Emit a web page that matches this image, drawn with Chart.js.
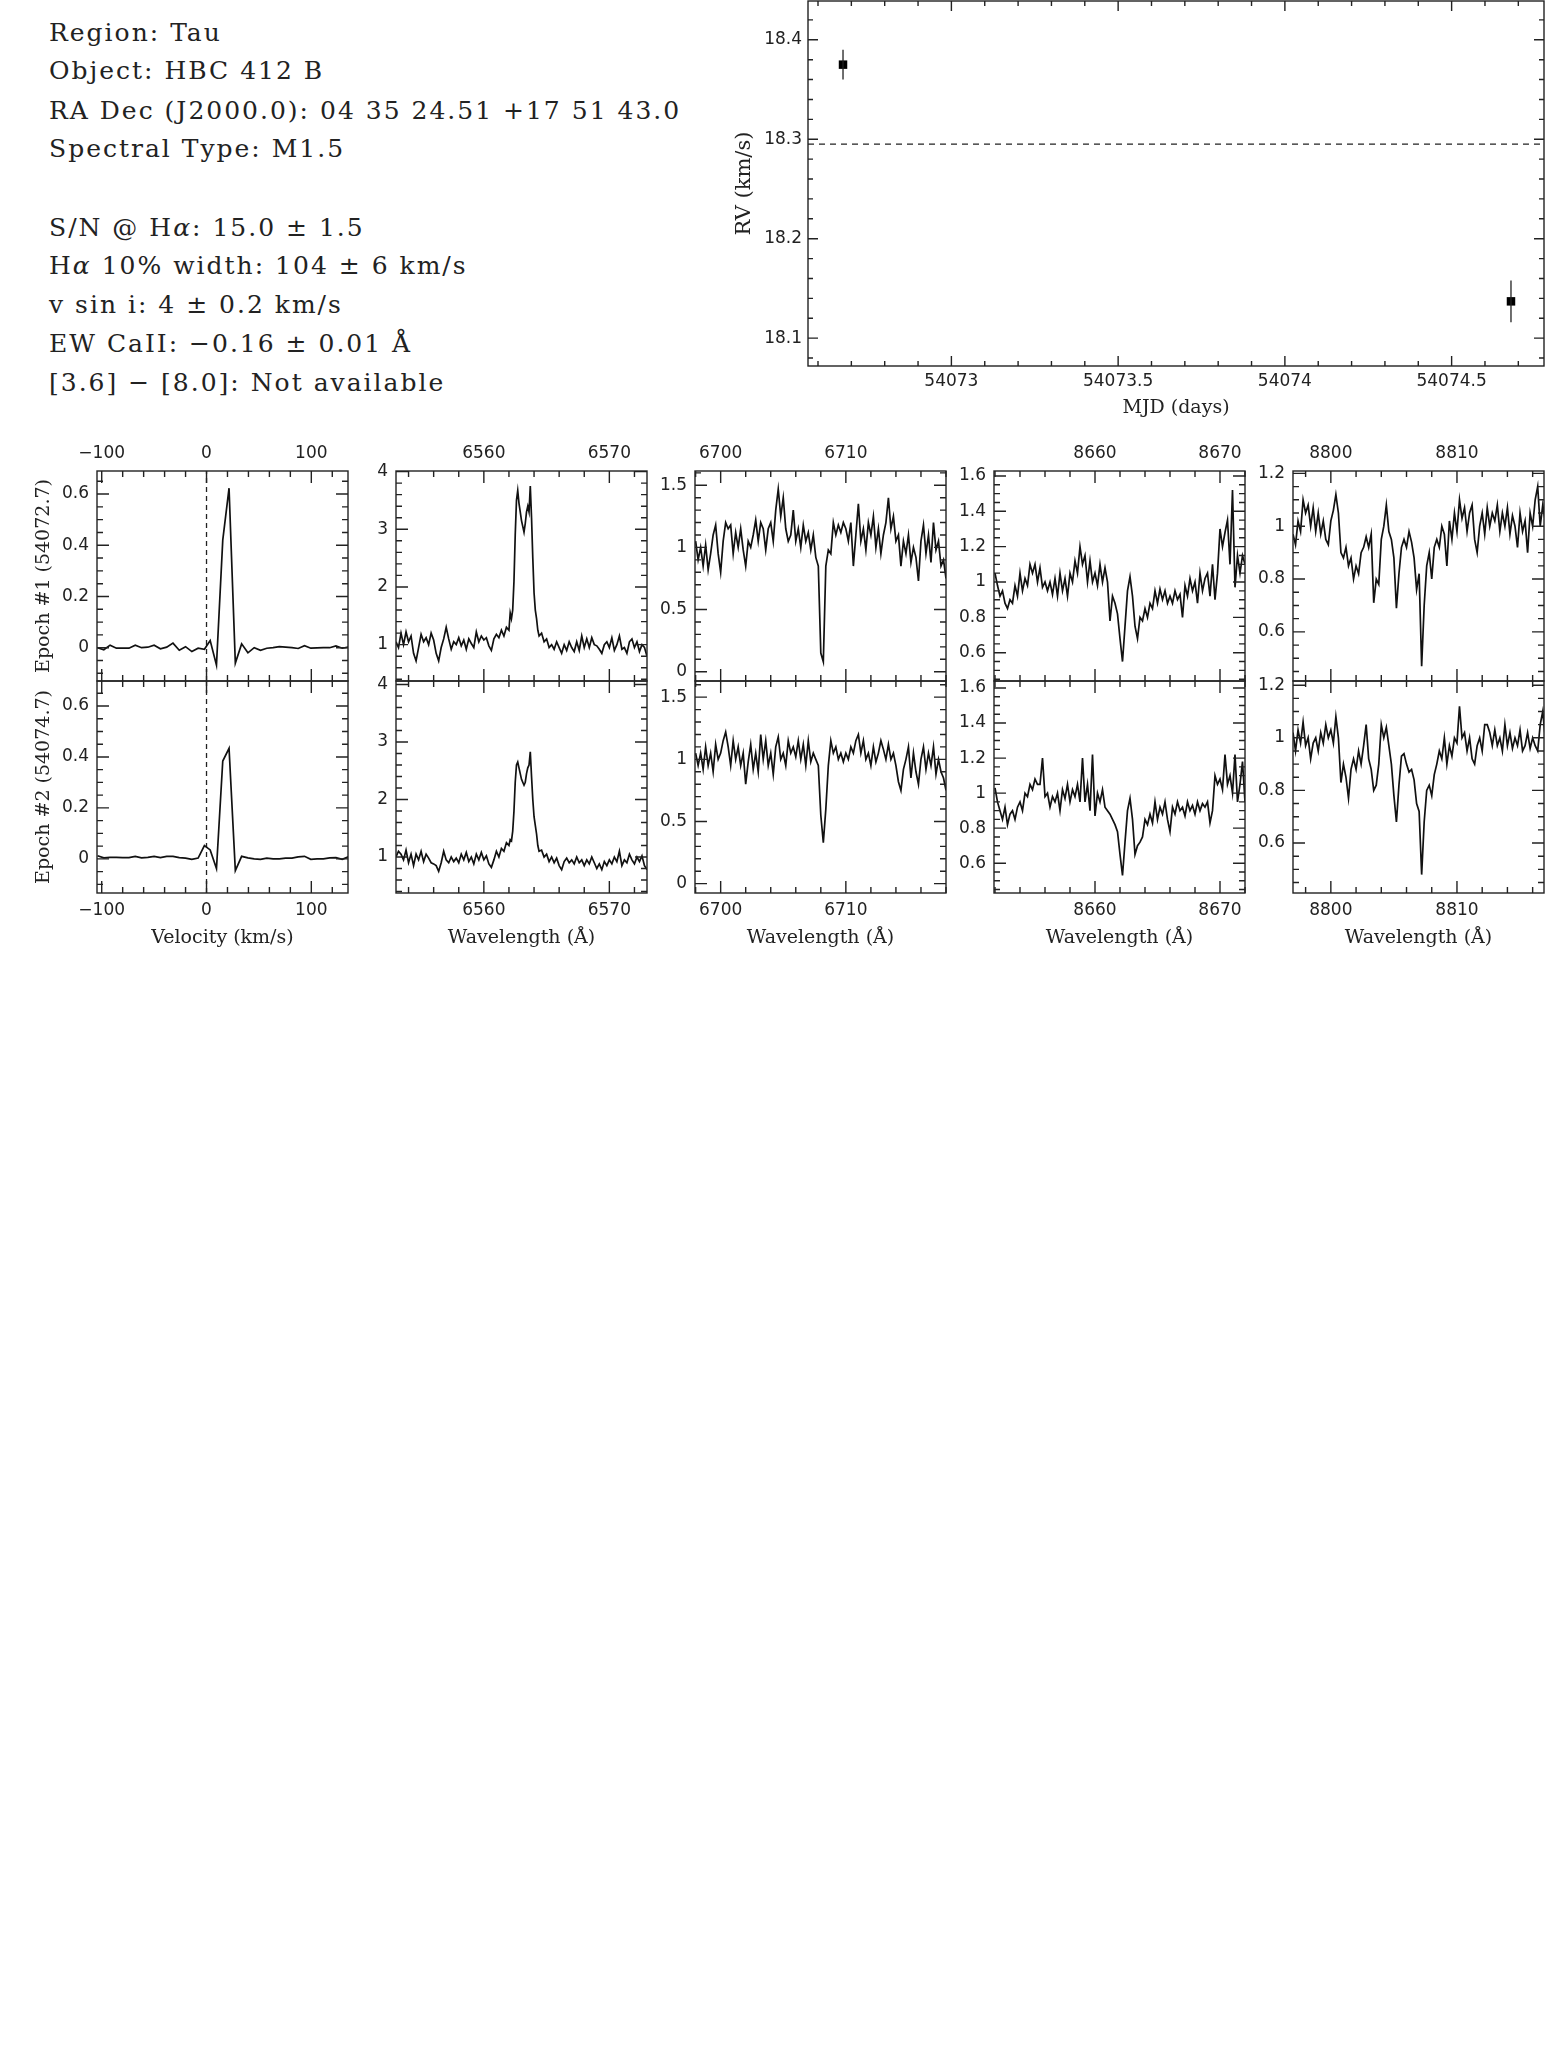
<!DOCTYPE html>
<html>
<head>
<meta charset="utf-8">
<title>HBC 412 B</title>
<script src="https://cdn.jsdelivr.net/npm/chart.js@4.4.1/dist/chart.umd.min.js"></script>
<style>
  html, body { margin: 0; padding: 0; background: #fff; }
  #fig { position: relative; width: 1547px; height: 2069px; overflow: hidden; background: #fff; }
  .info { position: absolute; left: 49px; font-family: "DejaVu Serif", serif; font-size: 25px; line-height: 25px; letter-spacing: 2px; color: #222; white-space: pre; }
  canvas { position: absolute; }
</style>
</head>
<body>
<div id="fig">
  <div class="info" style="top:20px">Region: Tau</div>
  <div class="info" style="top:58px">Object: HBC 412 B</div>
  <div class="info" style="top:98px">RA Dec (J2000.0): 04 35 24.51 +17 51 43.0</div>
  <div class="info" style="top:136px">Spectral Type: M1.5</div>
  <div class="info" style="top:215px">S/N @ H<i>α</i>: 15.0 ± 1.5</div>
  <div class="info" style="top:253px">H<i>α</i> 10% width: 104 ± 6 km/s</div>
  <div class="info" style="top:292px">v sin i: 4 ± 0.2 km/s</div>
  <div class="info" style="top:331px">EW CaII: −0.16 ± 0.01 Å</div>
  <div class="info" style="top:370px">[3.6] − [8.0]: Not available</div>
</div>
<script>
// RV curve
const rvMjd = [54072.675, 54074.678];
const rvKms = [18.375, 18.137];
const rvErr = [0.015, 0.021];
const rvMean = 18.295;
const rvRangeX = [54072.57, 54074.777];
const rvRangeY = [18.072, 18.439];
const rvTicksX = [54073, 54073.5, 54074, 54074.5];
const rvTicksY = [18.1, 18.2, 18.3, 18.4];

// H-alpha velocity profile (difference spectra)
const velGrid = [-104, -98, -92, -86, -80, -74, -68, -62, -56, -50, -44, -38, -32, -26, -20, -14, -8, -2,
  3.5, 9.5, 15.5, 21.5, 27.5, 33.5, 39.5, 45.5, 51.5, 57.5, 63.5, 69.5, 75.5, 81.5, 87.5, 93.5, 99.5, 105.5, 111.5, 117.5, 123.5, 129.5, 135.5];
const velEpoch1 = [0.0, -0.008, 0.01, -0.002, -0.002, -0.002, 0.01, 0.0, 0.002, 0.01, -0.004, 0.002, 0.018, -0.01, 0.004, -0.015, -0.002, -0.006,
  0.028, -0.068, 0.42, 0.623, -0.06, 0.015, -0.02, 0.0, -0.01, -0.002, 0.0, 0.004, 0.002, 0.0, -0.003, 0.008, -0.002, -0.001, 0.0, 0.0, 0.007, -0.002, 0.003];
const velEpoch2 = [0.012, 0.004, 0.006, 0.006, 0.005, 0.005, 0.01, 0.004, 0.006, 0.01, 0.005, 0.01, 0.01, 0.005, 0.003, -0.002, 0.003, 0.052,
  0.035, -0.038, 0.384, 0.434, -0.046, 0.01, 0.004, 0.0, -0.002, 0.003, 0.0, 0.0, 0.003, 0.003, 0.008, 0.01, -0.002, 0.0, 0.0, 0.004, 0.005, -0.002, 0.008];
const velTicksX = [-100, 0, 100];
const velTicksY = [0, 0.2, 0.4, 0.6];

// H-alpha 6563
const haWave = [6553.0, 6553.2, 6553.4, 6553.6, 6553.8, 6554.0, 6554.2, 6554.4, 6554.6, 6554.8, 6555.0, 6555.2, 6555.4, 6555.6, 6555.8,
  6556.0, 6556.2, 6556.4, 6556.6, 6556.8, 6557.0, 6557.2, 6557.4, 6557.6, 6557.8, 6558.0, 6558.2, 6558.4, 6558.6, 6558.8,
  6559.0, 6559.2, 6559.4, 6559.6, 6559.8, 6560.0, 6560.2, 6560.4, 6560.6, 6560.8, 6561.0, 6561.2, 6561.4, 6561.6, 6561.8,
  6562.0, 6562.1, 6562.2, 6562.3, 6562.4, 6562.5, 6562.6, 6562.7, 6562.8, 6562.9, 6563.0, 6563.1, 6563.2, 6563.3, 6563.4,
  6563.5, 6563.6, 6563.7, 6563.8, 6563.9, 6564.0, 6564.1, 6564.2, 6564.3, 6564.4,
  6564.6, 6564.8, 6565.0, 6565.2, 6565.4, 6565.6, 6565.8, 6566.0, 6566.2, 6566.4, 6566.6, 6566.8, 6567.0, 6567.2, 6567.4,
  6567.6, 6567.8, 6568.0, 6568.2, 6568.4, 6568.6, 6568.8, 6569.0, 6569.2, 6569.4, 6569.6, 6569.8, 6570.0, 6570.2, 6570.4,
  6570.6, 6570.8, 6571.0, 6571.2, 6571.4, 6571.6, 6571.8, 6572.0, 6572.2, 6572.4, 6572.6, 6572.8, 6573.0];
const haFlux1 = [1.05, 0.95, 1.2, 1.0, 1.22, 1.05, 1.15, 0.85, 0.72, 0.95, 1.18, 1.05, 1.12, 1.0, 1.2,
  1.08, 0.85, 0.72, 0.95, 1.1, 1.3, 1.1, 0.92, 1.05, 1.0, 1.12, 0.98, 1.08, 0.92, 1.1,
  1.02, 0.95, 1.22, 1.05, 1.15, 1.08, 1.12, 0.98, 0.9, 1.1, 1.18, 1.12, 1.25, 1.15, 1.3,
  1.25, 1.55, 1.45, 1.6, 2.1, 2.9, 3.5, 3.67, 3.45, 3.3, 3.15, 3.05, 2.95, 3.1, 3.3,
  3.4, 3.3, 3.75, 3.2, 2.5, 1.9, 1.6, 1.45, 1.25, 1.15,
  1.2, 1.05, 1.1, 0.95, 1.0, 0.92, 1.05, 0.95, 0.85, 1.0, 0.9, 1.05, 0.95, 0.88, 1.05,
  0.9, 1.15, 0.95, 1.1, 0.95, 1.12, 1.0, 0.98, 0.92, 0.85, 1.0, 1.05, 0.95, 1.12, 0.9,
  1.0, 1.15, 0.92, 0.95, 0.85, 1.05, 1.1, 0.95, 1.05, 0.88, 1.0, 0.95, 0.8];
const haFlux2 = [1.0, 1.1, 1.05, 0.95, 1.12, 0.9, 1.05, 0.85, 1.05, 0.95, 1.1, 0.92, 1.05, 0.98, 0.9,
  0.88, 0.85, 0.75, 0.9, 1.1, 0.95, 0.9, 1.0, 0.92, 0.98, 0.9, 1.05, 0.95, 1.08, 0.92,
  1.0, 0.88, 1.05, 0.95, 1.08, 0.95, 1.02, 0.88, 0.82, 0.95, 1.1, 1.0, 1.15, 1.1, 1.25,
  1.2, 1.3, 1.28, 1.45, 1.8, 2.3, 2.6, 2.65, 2.55, 2.45, 2.35, 2.3, 2.25, 2.3, 2.45,
  2.55, 2.6, 2.83, 2.4, 2.0, 1.7, 1.55, 1.4, 1.2, 1.1,
  1.12, 1.0, 1.05, 0.92, 1.0, 0.9, 0.98, 0.85, 0.78, 0.92, 0.98, 0.9, 0.95, 0.88, 1.0,
  0.9, 0.95, 0.85, 0.95, 0.88, 1.0, 0.9, 0.8, 0.88, 0.78, 0.92, 0.85, 0.95, 0.88, 1.0,
  0.92, 1.1, 0.85, 0.95, 0.9, 1.05, 0.95, 0.88, 1.0, 0.92, 1.02, 0.85, 0.78];
const haTicksX = [6560, 6570];
const haTicksY = [1, 2, 3, 4];

// Li I 6708
const liWave = [6698.0, 6698.2, 6698.4, 6698.6, 6698.8, 6699.0, 6699.2, 6699.4, 6699.6, 6699.8,
  6700.0, 6700.2, 6700.4, 6700.6, 6700.8, 6701.0, 6701.2, 6701.4, 6701.6, 6701.8,
  6702.0, 6702.2, 6702.4, 6702.6, 6702.8, 6703.0, 6703.2, 6703.4, 6703.6, 6703.8,
  6704.0, 6704.2, 6704.4, 6704.6, 6704.8, 6705.0, 6705.2, 6705.4, 6705.6, 6705.8,
  6706.0, 6706.2, 6706.4, 6706.6, 6706.8, 6707.0, 6707.2, 6707.4, 6707.6, 6707.8,
  6708.0, 6708.2, 6708.4, 6708.6, 6708.8, 6709.0, 6709.2, 6709.4, 6709.6, 6709.8,
  6710.0, 6710.2, 6710.4, 6710.6, 6710.8, 6711.0, 6711.2, 6711.4, 6711.6, 6711.8,
  6712.0, 6712.2, 6712.4, 6712.6, 6712.8, 6713.0, 6713.2, 6713.4, 6713.6, 6713.8,
  6714.0, 6714.2, 6714.4, 6714.6, 6714.8, 6715.0, 6715.2, 6715.4, 6715.6, 6715.8,
  6716.0, 6716.2, 6716.4, 6716.6, 6716.8, 6717.0, 6717.2, 6717.4, 6717.6, 6717.8, 6718.0];
const liFlux1 = [1.05, 0.9, 1.0, 0.85, 1.02, 0.82, 0.95, 1.1, 1.18, 0.95,
  0.8, 1.05, 1.2, 1.15, 1.18, 0.95, 1.12, 1.0, 1.15, 0.98,
  0.85, 1.05, 1.0, 1.1, 1.22, 1.05, 1.2, 1.15, 0.98, 1.15,
  1.2, 1.05, 1.3, 1.47, 1.25, 1.4, 1.15, 1.05, 1.1, 1.3,
  1.05, 1.15, 1.0, 1.18, 1.05, 1.12, 0.98, 1.1, 0.92, 0.85,
  0.15, 0.08, 0.85, 0.98, 0.95, 1.2, 1.1, 1.18, 1.12, 1.2,
  1.15, 1.05, 1.2, 0.85, 1.1, 1.35, 1.05, 1.15, 0.98, 1.2,
  1.1, 1.25, 1.0, 1.15, 0.95, 1.1, 1.2, 1.4, 1.15, 1.25,
  1.05, 1.1, 0.85, 1.05, 0.95, 1.1, 0.88, 1.0, 0.92, 0.73,
  1.05, 1.18, 0.95, 1.1, 0.88, 1.2, 0.98, 1.05, 0.85, 0.9, 0.75];
const liFlux2 = [1.05, 0.95, 1.05, 0.92, 1.1, 0.95, 1.05, 0.9, 1.12, 1.0,
  1.05, 1.15, 1.22, 1.1, 0.95, 1.15, 1.0, 1.1, 0.95, 1.05,
  0.8, 0.98, 1.12, 0.92, 1.05, 0.9, 1.2, 1.0, 1.15, 0.95,
  1.05, 0.88, 1.1, 1.18, 1.0, 1.05, 0.95, 1.15, 1.05, 1.1,
  1.02, 1.15, 1.0, 1.12, 0.95, 1.15, 0.98, 1.05, 1.0, 0.95,
  0.55, 0.33, 0.6, 0.95, 1.15, 1.05, 1.1, 1.0, 1.05, 0.98,
  1.05, 1.0, 1.1, 1.05, 1.15, 1.2, 1.05, 1.15, 1.0, 1.05,
  0.95, 1.1, 0.98, 1.05, 1.15, 1.08, 1.0, 1.12, 1.0, 1.05,
  0.95, 0.82, 0.75, 0.92, 1.0, 1.1, 0.85, 1.05, 0.9, 0.8,
  1.0, 1.1, 0.92, 1.05, 0.95, 1.1, 0.88, 1.0, 0.9, 0.85, 0.75];
const liTicksX = [6700, 6710];
const liTicksY = [0, 0.5, 1, 1.5];

// Ca II 8662
const caWave = [8652.0, 8652.2, 8652.4, 8652.6, 8652.8, 8653.0, 8653.2, 8653.4, 8653.6, 8653.8,
  8654.0, 8654.2, 8654.4, 8654.6, 8654.8, 8655.0, 8655.2, 8655.4, 8655.6, 8655.8,
  8656.0, 8656.2, 8656.4, 8656.6, 8656.8, 8657.0, 8657.2, 8657.4, 8657.6, 8657.8,
  8658.0, 8658.2, 8658.4, 8658.6, 8658.8, 8659.0, 8659.2, 8659.4, 8659.6, 8659.8,
  8660.0, 8660.2, 8660.4, 8660.6, 8660.8, 8661.0, 8661.2, 8661.4, 8661.6, 8661.8,
  8662.0, 8662.2, 8662.4, 8662.6, 8662.8, 8663.0, 8663.2, 8663.4, 8663.6, 8663.8,
  8664.0, 8664.2, 8664.4, 8664.6, 8664.8, 8665.0, 8665.2, 8665.4, 8665.6, 8665.8,
  8666.0, 8666.2, 8666.4, 8666.6, 8666.8, 8667.0, 8667.2, 8667.4, 8667.6, 8667.8,
  8668.0, 8668.2, 8668.4, 8668.6, 8668.8, 8669.0, 8669.2, 8669.4, 8669.6, 8669.8,
  8670.0, 8670.2, 8670.4, 8670.6, 8670.8, 8671.0, 8671.2, 8671.4, 8671.6, 8671.8, 8672.0];
const caFlux1 = [1.05, 0.98, 0.92, 0.95, 0.88, 0.85, 0.9, 0.88, 0.98, 0.92,
  1.05, 0.95, 1.02, 0.98, 1.1, 1.05, 1.1, 1.0, 1.08, 0.97,
  1.0, 0.95, 1.0, 0.93, 1.02, 0.92, 1.05, 0.95, 1.02, 0.92,
  1.05, 1.0, 1.12, 1.05, 1.2, 1.1, 1.15, 1.0, 1.12, 1.0,
  1.05, 0.98, 1.1, 1.0, 1.08, 1.0, 0.78, 0.92, 0.88, 0.82,
  0.68, 0.55, 0.75, 0.95, 1.03, 0.92, 0.75, 0.68, 0.8, 0.78,
  0.85, 0.8, 0.88, 0.85, 0.95, 0.88, 0.96, 0.9, 0.95, 0.88,
  0.92, 0.88, 0.95, 0.9, 0.93, 0.8, 0.98, 0.92, 1.02, 0.95,
  1.0, 0.88, 1.05, 0.95, 1.02, 1.05, 0.92, 1.1, 0.9, 1.05,
  1.3, 1.2, 1.28, 1.35, 1.1, 1.52, 0.97, 1.15, 1.05, 1.15, 1.1];
const caFlux2 = [1.03, 0.95, 0.9, 0.85, 0.92, 0.82, 0.88, 0.9, 0.85, 0.92,
  0.95, 0.9, 1.0, 0.98, 1.05, 1.02, 1.08, 1.05, 1.05, 1.2,
  0.98, 1.0, 0.92, 0.98, 0.95, 1.0, 0.9, 1.02, 0.97, 1.05,
  0.95, 1.02, 0.98, 1.05, 0.95, 1.2, 0.95, 1.05, 0.9, 1.22,
  0.87, 1.0, 0.95, 1.02, 0.92, 0.9, 0.88, 0.85, 0.82, 0.78,
  0.65, 0.53, 0.72, 0.9, 0.97, 0.85, 0.65, 0.7, 0.72, 0.75,
  0.85, 0.82, 0.88, 0.83, 0.95, 0.85, 0.92, 0.88, 0.95, 0.85,
  0.78, 0.92, 0.88, 0.95, 0.9, 0.92, 0.87, 0.95, 0.9, 0.93,
  0.88, 0.95, 0.9, 0.94, 0.92, 0.95, 0.83, 0.9, 1.1, 1.05,
  1.08, 1.02, 1.22, 1.05, 1.1, 1.0, 1.22, 0.95, 1.05, 1.18, 0.95];
const caTicksX = [8660, 8670];
const caTicksY = [0.6, 0.8, 1, 1.2, 1.4, 1.6];

// K I 8807 region
const kWave = [8797.0, 8797.2, 8797.4, 8797.6, 8797.8, 8798.0, 8798.2, 8798.4, 8798.6, 8798.8,
  8799.0, 8799.2, 8799.4, 8799.6, 8799.8, 8800.0, 8800.2, 8800.4, 8800.6, 8800.8,
  8801.0, 8801.2, 8801.4, 8801.6, 8801.8, 8802.0, 8802.2, 8802.4, 8802.6, 8802.8,
  8803.0, 8803.2, 8803.4, 8803.6, 8803.8, 8804.0, 8804.2, 8804.4, 8804.6, 8804.8,
  8805.0, 8805.2, 8805.4, 8805.6, 8805.8, 8806.0, 8806.2, 8806.4, 8806.6, 8806.8,
  8807.0, 8807.2, 8807.4, 8807.6, 8807.8, 8808.0, 8808.2, 8808.4, 8808.6, 8808.8,
  8809.0, 8809.2, 8809.4, 8809.6, 8809.8, 8810.0, 8810.2, 8810.4, 8810.6, 8810.8,
  8811.0, 8811.2, 8811.4, 8811.6, 8811.8, 8812.0, 8812.2, 8812.4, 8812.6, 8812.8,
  8813.0, 8813.2, 8813.4, 8813.6, 8813.8, 8814.0, 8814.2, 8814.4, 8814.6, 8814.8,
  8815.0, 8815.2, 8815.4, 8815.6, 8815.8, 8816.0, 8816.2, 8816.4, 8816.6, 8816.8, 8817.0];
const kFlux1 = [0.97, 0.93, 1.02, 0.98, 1.1, 1.05, 1.08, 1.0, 1.07, 0.98,
  1.05, 0.97, 1.02, 0.95, 0.93, 1.02, 1.06, 1.12, 1.05, 0.9,
  0.88, 0.92, 0.85, 0.88, 0.8, 0.85, 0.82, 0.9, 0.92, 0.96,
  0.92, 0.97, 0.71, 0.8, 0.78, 0.95, 1.0, 1.08, 0.98, 0.95,
  0.88, 0.69, 0.82, 0.92, 0.95, 0.92, 0.98, 0.94, 0.88, 0.76,
  0.82, 0.47, 0.7, 0.85, 0.9, 0.8, 0.92, 0.95, 0.92, 1.0,
  0.97, 0.85, 1.02, 0.95, 1.05, 0.98, 1.1, 1.03, 1.07, 0.98,
  1.05, 1.08, 0.95, 0.9, 1.0, 1.05, 0.97, 1.07, 1.0, 1.05,
  1.02, 1.08, 0.98, 1.05, 1.0, 1.07, 0.97, 1.04, 1.0, 0.92,
  1.05, 0.98, 1.02, 0.9, 1.05, 1.0, 1.1, 1.15, 1.0, 1.08, 1.02];
const kFlux2 = [1.02, 0.95, 1.03, 0.98, 1.06, 0.97, 1.0, 0.92, 0.98, 1.0,
  0.95, 1.02, 0.98, 1.05, 1.0, 1.03, 0.98, 1.08, 1.0, 0.83,
  0.9, 0.85, 0.77, 0.88, 0.92, 0.88, 0.95, 0.9, 0.97, 1.05,
  0.92, 0.88, 0.8, 0.82, 0.9, 1.05, 1.0, 1.04, 0.97, 0.9,
  0.78, 0.68, 0.82, 0.93, 0.94, 0.9, 0.87, 0.88, 0.84, 0.75,
  0.72, 0.48, 0.68, 0.8, 0.82, 0.78, 0.86, 0.9, 0.95, 0.92,
  1.0, 0.9, 0.97, 0.93, 1.0, 0.98, 1.12, 1.0, 1.02, 0.95,
  1.0, 0.92, 0.9, 0.97, 1.0, 0.95, 1.05, 1.05, 1.02, 0.97,
  1.03, 0.97, 1.0, 0.95, 1.05, 0.97, 1.02, 0.96, 1.0, 0.97,
  1.03, 0.95, 0.97, 1.02, 0.96, 1.0, 0.97, 0.95, 1.05, 1.1, 1.0];
const kTicksX = [8800, 8810];
const kTicksY = [0.6, 0.8, 1, 1.2];

const epochLabels = ['Epoch #1 (54072.7)', 'Epoch #2 (54074.7)'];

const panels = [
  { wave: velGrid, flux: [velEpoch1, velEpoch2], xRange: [-104.5, 135], xTicks: velTicksX, xMinor: 20,
    yRange: [[-0.13, 0.69], [-0.134, 0.698]], yTicks: velTicksY, yMinor: 0.05, xTitle: 'Velocity (km/s)', zero: true },
  { wave: haWave, flux: [haFlux1, haFlux2], xRange: [6553, 6573], xTicks: haTicksX, xMinor: 2,
    yRange: [[0.37, 4.01], [0.374, 4.06]], yTicks: haTicksY, yMinor: 0.2, xTitle: 'Wavelength (Å)' },
  { wave: liWave, flux: [liFlux1, liFlux2], xRange: [6697.95, 6718], xTicks: liTicksX, xMinor: 2,
    yRange: [[-0.075, 1.615], [-0.075, 1.63]], yTicks: liTicksY, yMinor: 0.1, xTitle: 'Wavelength (Å)' },
  { wave: caWave, flux: [caFlux1, caFlux2], xRange: [8651.92, 8672], xTicks: caTicksX, xMinor: 2,
    yRange: [[0.44, 1.628], [0.43, 1.64]], yTicks: caTicksY, yMinor: 0.05, xTitle: 'Wavelength (Å)' },
  { wave: kWave, flux: [kFlux1, kFlux2], xRange: [8797, 8816.9], xTicks: kTicksX, xMinor: 2,
    yRange: [[0.414, 1.209], [0.41, 1.216]], yTicks: kTicksY, yMinor: 0.05, xTitle: 'Wavelength (Å)' }
];

const ink = '#222';
const tickFont = { family: 'DejaVu Sans', size: 17 };
const titleFont = { family: 'DejaVu Serif', size: 19 };
const fmt = v => (v < 0 ? '\u2212' + Math.abs(v) : String(v));
const fig = document.getElementById('fig');

// frame around the plot area with inward major/minor ticks on all four sides
const frameTicks = {
  id: 'frameTicks',
  afterDatasetsDraw(chart, args, o) {
    const { ctx, chartArea: a } = chart;
    const sx = chart.scales.x, sy = chart.scales.y;
    const steps = (min, max, step) => {
      const out = [];
      for (let n = Math.ceil(min / step - 1e-6); n * step <= max + 1e-9; n++) out.push(n * step);
      return out;
    };
    ctx.save();
    ctx.strokeStyle = ink;
    ctx.lineWidth = 1.4;
    ctx.strokeRect(a.left, a.top, a.right - a.left, a.bottom - a.top);
    ctx.beginPath();
    const xt = steps(sx.min, sx.max, o.xMinor).map(v => [v, o.minor]).concat(o.xMajor.map(v => [v, o.major]));
    xt.forEach(([v, len]) => {
      const p = sx.getPixelForValue(v);
      if (p < a.left || p > a.right) return;
      ctx.moveTo(p, a.bottom); ctx.lineTo(p, a.bottom - len);
      ctx.moveTo(p, a.top); ctx.lineTo(p, a.top + len);
    });
    const yt = steps(sy.min, sy.max, o.yMinor).map(v => [v, o.minor]).concat(o.yMajor.map(v => [v, o.major]));
    yt.forEach(([v, len]) => {
      const p = sy.getPixelForValue(v);
      if (p < a.top || p > a.bottom) return;
      ctx.moveTo(a.left, p); ctx.lineTo(a.left + len, p);
      ctx.moveTo(a.right, p); ctx.lineTo(a.right - len, p);
    });
    ctx.stroke();
    ctx.restore();
  }
};

function addCanvas(left, top, w, h) {
  const c = document.createElement('canvas');
  c.width = w; c.height = h;
  c.style.left = left + 'px'; c.style.top = top + 'px';
  c.style.width = w + 'px'; c.style.height = h + 'px';
  fig.appendChild(c);
  return c;
}

// fixes the axis size so every plot box lands where it should
function fixedAxis(size, horizontal) {
  return s => {
    if (horizontal) s.height = size; else s.width = size;
    s.paddingTop = 0; s.paddingBottom = 0; s.paddingLeft = 0; s.paddingRight = 0;
  };
}

function axisOptions(range, ticks, position, size, horizontal, pad, title) {
  return {
    type: 'linear', position, min: range[0], max: range[1],
    grid: { display: false, drawTicks: false, tickLength: 0 }, border: { display: false },
    afterBuildTicks: s => { s.ticks = ticks.map(value => ({ value })); },
    afterFit: fixedAxis(size, horizontal),
    ticks: { autoSkip: false, maxRotation: 0, minRotation: 0, padding: pad, font: tickFont, color: ink, callback: fmt },
    title: title || { display: false }
  };
}

// RV panel
function drawRV() {
  const canvas = addCanvas(720, -11, 827, 443);
  const datasets = [{
    data: [{ x: rvRangeX[0], y: rvMean }, { x: rvRangeX[1], y: rvMean }],
    borderColor: ink, borderWidth: 1.3, borderDash: [6, 5], pointRadius: 0
  }];
  rvMjd.forEach((m, i) => {
    datasets.push({
      data: [{ x: m, y: rvKms[i] - rvErr[i] }, { x: m, y: rvKms[i] + rvErr[i] }],
      borderColor: ink, borderWidth: 1.3, pointRadius: 0
    });
  });
  datasets.push({
    data: rvMjd.map((m, i) => ({ x: m, y: rvKms[i] })),
    showLine: false, pointStyle: 'rect', pointRadius: 6,
    pointBackgroundColor: '#000', pointBorderColor: '#000', pointBorderWidth: 0
  });
  new Chart(canvas, {
    type: 'line',
    data: { datasets },
    options: {
      responsive: false, animation: false, events: [],
      layout: { autoPadding: false, padding: { left: 0, right: 3, top: 12, bottom: 0 } },
      plugins: {
        legend: { display: false }, tooltip: { enabled: false },
        frameTicks: { xMajor: rvTicksX, xMinor: 0.1, yMajor: rvTicksY, yMinor: 0.02, major: 10, minor: 5 }
      },
      scales: {
        x: axisOptions(rvRangeX, rvTicksX, 'bottom', 66, true, 5,
          { display: true, text: 'MJD (days)', font: titleFont, color: ink, padding: { top: 0, bottom: 12.6 } }),
        y: axisOptions(rvRangeY, rvTicksY, 'left', 88, false, 6,
          { display: true, text: 'RV (km/s)', font: { family: 'DejaVu Serif', size: 21 }, color: ink, padding: { top: 12.4, bottom: 0 } })
      }
    },
    plugins: [frameTicks]
  });
}

const colLeft = [97, 396, 695, 994, 1293];
const boxW = 251;

// one spectrum panel (row 0 = epoch 1, row 1 = epoch 2)
function drawPanel(p, col, row) {
  const yW = col === 0 ? 97 : 60;
  const boxTop = row === 0 ? 471 : 681;
  const boxH = row === 0 ? 210 : 212;
  const xH = row === 0 ? 40 : 64;
  const pad = 12;
  const top = row === 0 ? boxTop - xH : boxTop - pad;
  const canvas = addCanvas(colLeft[col] - yW, top, yW + boxW + pad, xH + boxH + pad);
  const ys = p.flux[row];
  const datasets = [{
    data: p.wave.map((x, i) => ({ x, y: ys[i] })),
    borderColor: '#111', borderWidth: 1.7, pointRadius: 0
  }];
  if (p.zero) {
    datasets.push({
      data: [{ x: 0, y: p.yRange[row][0] }, { x: 0, y: p.yRange[row][1] }],
      borderColor: ink, borderWidth: 1.3, borderDash: [5, 4], pointRadius: 0
    });
  }
  new Chart(canvas, {
    type: 'line',
    data: { datasets },
    options: {
      responsive: false, animation: false, events: [],
      layout: { autoPadding: false, padding: { left: 0, right: pad, top: row === 0 ? 0 : pad, bottom: row === 0 ? pad : 0 } },
      plugins: {
        legend: { display: false }, tooltip: { enabled: false },
        frameTicks: { xMajor: p.xTicks, xMinor: p.xMinor, yMajor: p.yTicks, yMinor: p.yMinor, major: 12, minor: 6 }
      },
      scales: {
        x: axisOptions(p.xRange, p.xTicks, row === 0 ? 'top' : 'bottom', xH, true, 7,
          row === 1 ? { display: true, text: p.xTitle, font: titleFont, color: ink, padding: { top: 0, bottom: 7.6 } } : null),
        y: axisOptions(p.yRange[row], p.yTicks, 'left', yW, false, 8,
          col === 0 ? { display: true, text: epochLabels[row], font: titleFont, color: ink, padding: { top: 32.6, bottom: 0 } } : null)
      }
    },
    plugins: [frameTicks]
  });
}

drawRV();
panels.forEach((p, col) => {
  drawPanel(p, col, 0);
  drawPanel(p, col, 1);
});
</script>
</body>
</html>
